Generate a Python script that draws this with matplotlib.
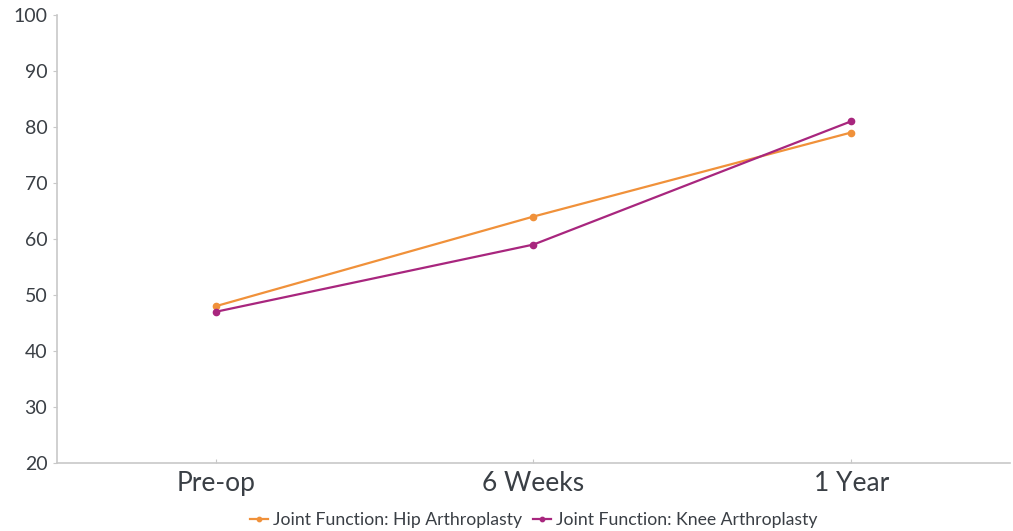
import matplotlib.pyplot as plt

categories = ["Pre-op", "6 Weeks", "1 Year"]
hip_values = [48, 64, 79]
knee_values = [47, 59, 81]
y_ticks = [20, 30, 40, 50, 60, 70, 80, 90, 100]

plt.rcParams['font.family'] = ['Lato', 'DejaVu Sans']

fig = plt.figure(figsize=(10.13, 5.31), dpi=100)
ax = fig.add_axes([0.0563, 0.128, 0.9407, 0.844])

x = list(range(len(categories)))
ax.plot(x, hip_values, color='#F0913A', linewidth=1.6, marker='o', markersize=4.5,
        label='Joint Function: Hip Arthroplasty')
ax.plot(x, knee_values, color='#A8267E', linewidth=1.6, marker='o', markersize=4.5,
        label='Joint Function: Knee Arthroplasty')

ax.set_xlim(-0.5, 2.5)
ax.set_ylim(20, 100)
ax.set_yticks(y_ticks)
ax.set_xticks(x)
ax.set_xticklabels(categories)

for side in ['top', 'right']:
    ax.spines[side].set_visible(False)
for side in ['left', 'bottom']:
    ax.spines[side].set_color('#c8c8c8')
    ax.spines[side].set_linewidth(1.2)

ax.tick_params(axis='y', labelsize=14, colors='#c8c8c8', labelcolor='#3a3f45',
               length=3, pad=4)
ax.tick_params(axis='x', labelsize=19, colors='#c8c8c8', labelcolor='#3a3f45',
               direction='in', length=3, pad=6)

leg = fig.legend(loc='lower center', bbox_to_anchor=(0.527, -0.025), ncol=2, frameon=False,
                 fontsize=12.7, handlelength=1.0, handletextpad=0.3, columnspacing=0.6,
                 markerscale=0.7)
for t in leg.get_texts():
    t.set_color('#3a3f45')

fig.savefig('out.png', dpi=100)
